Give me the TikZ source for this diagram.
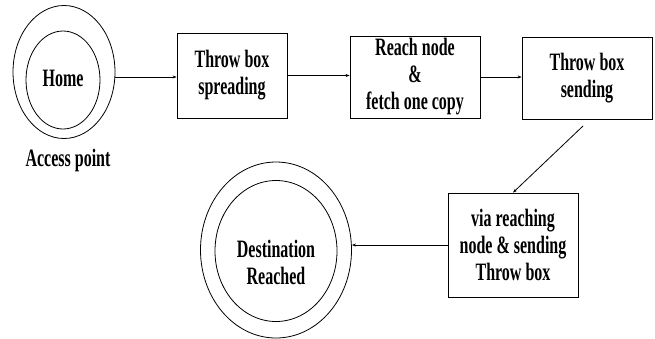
\documentclass[tikz,border=0pt]{standalone}
\usepackage{fontspec}
\setmainfont[FakeStretch=0.64]{Liberation Serif}
\usetikzlibrary{arrows.meta,shadows,shapes.geometric}
\begin{document}
\begin{tikzpicture}[x=1pt,y=-1pt,
  lbl/.style={font=\bfseries\fontsize{25}{27}\selectfont,align=center,inner sep=0pt},
  boxn/.style={draw,line width=0.8pt,fill=white,inner sep=0pt,
     drop shadow={shadow xshift=1.2pt,shadow yshift=-1.2pt,fill=black!25,opacity=1}},
  ring/.style={draw,ellipse,line width=0.8pt,inner sep=0pt},
  arr/.style={line width=0.8pt,-{Stealth[length=4pt,width=3pt]}}]
\useasboundingbox (0,0) rectangle (655,338);
% Home
\node[ring,minimum width=102pt,minimum height=133pt] (homeo) at (64,72) {};
\node[ring,minimum width=74pt,minimum height=98pt] (homei) at (63,80) {};
\node[lbl] (home) at (63,78) {Home};
\node[lbl] (ap) at (68,160) {Access point};
% boxes
\node[boxn,minimum width=110pt,minimum height=85pt] (b1) at (232,75.5) {};
\node[lbl] (t1) at (b1) {Throw box\\spreading};
\node[boxn,minimum width=130pt,minimum height=82pt] (b2) at (415,77) {};
\node[lbl] (t2) at (b2) {Reach node\\\&\\fetch one copy};
\node[boxn,minimum width=130pt,minimum height=82pt] (b3) at (587,78) {};
\node[lbl] (t3) at (b3) {Throw box\\sending};
\node[boxn,minimum width=130pt,minimum height=104pt] (b4) at (513,245) {};
\node[lbl] (t4) at (b4) {via reaching\\node \& sending\\Throw box};
% destination
\node[ring,minimum width=151pt,minimum height=176pt] (desto) at (276,250) {};
\node[ring,minimum width=122pt,minimum height=141pt] (desti) at (276,251) {};
\node[lbl] (dest) at (276,262) {Destination\\Reached};
% connectors
\coordinate (s3) at (583,126);
\draw[arr] (homeo.east) ++(0,5) coordinate (h1) -- (b1.west |- h1);
\draw[arr] (b1.east) -- (b2.west |- b1.east);
\draw[arr] (b2.east) -- (b3.west |- b2.east);
\draw[arr] (s3) -- (b4.north);
\draw[arr] (b4.west) -- (desto.east |- b4.west);
\end{tikzpicture}
\end{document}
